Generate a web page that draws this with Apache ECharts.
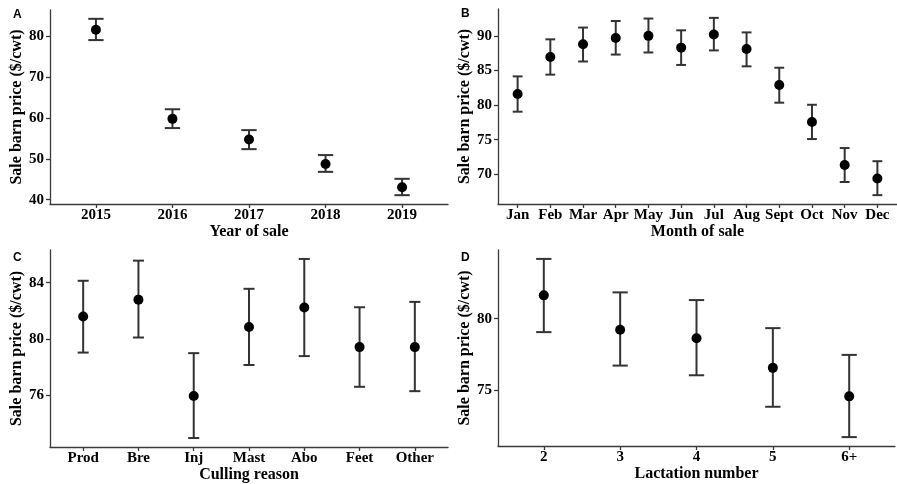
<!DOCTYPE html>
<html>
<head>
<meta charset="utf-8">
<script src="https://cdn.jsdelivr.net/npm/echarts@6/dist/echarts.min.js"></script>
<style>
  html, body { margin: 0; padding: 0; background: #fff; }
  #chart { width: 897px; height: 484px; }
</style>
</head>
<body>
<div id="chart"></div>
<script>
// Panel A: year of sale
const yearLabels = ['2015', '2016', '2017', '2018', '2019'];
const yearMean = [81.55, 59.75, 54.7, 48.7, 43.05];
const yearLow  = [79.0, 57.5, 52.35, 46.8, 41.1];
const yearHigh = [84.2, 62.1, 57.0, 50.9, 45.1];
const yearTicks = [40, 50, 60, 70, 80];

// Panel B: month of sale
const monthLabels = ['Jan', 'Feb', 'Mar', 'Apr', 'May', 'Jun', 'Jul', 'Aug', 'Sept', 'Oct', 'Nov', 'Dec'];
const monthMean = [81.6, 86.95, 88.8, 89.7, 90.0, 88.3, 90.2, 88.1, 82.9, 77.55, 71.35, 69.4];
const monthLow  = [79.05, 84.4, 86.3, 87.3, 87.6, 85.8, 87.9, 85.6, 80.35, 75.1, 68.9, 67.0];
const monthHigh = [84.15, 89.5, 91.2, 92.15, 92.5, 90.8, 92.6, 90.5, 85.4, 80.05, 73.8, 71.9];
const monthTicks = [70, 75, 80, 85, 90];

// Panel C: culling reason
const reasonLabels = ['Prod', 'Bre', 'Inj', 'Mast', 'Abo', 'Feet', 'Other'];
const reasonMean = [81.6, 82.8, 75.95, 80.86, 82.24, 79.43, 79.43];
const reasonLow  = [79.04, 80.11, 72.97, 78.16, 78.79, 76.61, 76.3];
const reasonHigh = [84.14, 85.57, 79.0, 83.57, 85.69, 82.26, 82.64];
const reasonTicks = [76, 80, 84];

// Panel D: lactation number
const lactLabels = ['2', '3', '4', '5', '6+'];
const lactMean = [81.64, 79.23, 78.63, 76.55, 74.55];
const lactLow  = [79.06, 76.71, 76.03, 73.82, 71.69];
const lactHigh = [84.2, 81.85, 81.31, 79.34, 77.46];
const lactTicks = [75, 80];

const yTitle = 'Sale barn price ($/cwt)';
const xTitles = ['Year of sale', 'Month of sale', 'Culling reason', 'Lactation number'];
const panelLetters = ['A', 'B', 'C', 'D'];

const panels = [
  { labels: yearLabels, mean: yearMean, low: yearLow, high: yearHigh, ticks: yearTicks, cap: 0.2,
    grid: { left: 50, top: 10, width: 398, height: 194 } },
  { labels: monthLabels, mean: monthMean, low: monthLow, high: monthHigh, ticks: monthTicks, cap: 0.3,
    grid: { left: 498, top: 9, width: 399, height: 195 } },
  { labels: reasonLabels, mean: reasonMean, low: reasonLow, high: reasonHigh, ticks: reasonTicks, cap: 0.2,
    grid: { left: 50, top: 250, width: 398, height: 197 } },
  { labels: lactLabels, mean: lactMean, low: lactLow, high: lactHigh, ticks: lactTicks, cap: 0.2,
    grid: { left: 498, top: 250, width: 397, height: 196 } }
];

const serif = 'Liberation Serif';
const axisColor = '#3a3a3a';
const barColor = '#333333';

const grids = [], xAxes = [], yAxes = [], series = [], graphics = [];

panels.forEach((p, i) => {
  const n = p.labels.length;
  const lo = Math.min.apply(null, p.low);
  const hi = Math.max.apply(null, p.high);
  const pad = (hi - lo) * 0.05;
  const positions = p.labels.map((_, k) => k + 1);

  grids.push(Object.assign({ containLabel: false }, p.grid));

  xAxes.push({
    type: 'value', gridIndex: i, min: 0.4, max: n + 0.6,
    splitLine: { show: false },
    axisLine: { show: true, onZero: false, lineStyle: { color: axisColor, width: 1.3 } },
    axisTick: { show: true, length: 4, customValues: positions, lineStyle: { color: axisColor, width: 1.3 } },
    axisLabel: {
      customValues: positions, margin: 4,
      formatter: v => p.labels[Math.round(v) - 1] || '',
      color: '#000', fontFamily: serif, fontWeight: 'bold', fontSize: 15
    },
    name: xTitles[i], nameLocation: 'middle', nameGap: 19,
    nameTextStyle: { color: '#000', fontFamily: serif, fontWeight: 'bold', fontSize: 16 }
  });

  yAxes.push({
    type: 'value', gridIndex: i, min: lo - pad, max: hi + pad,
    splitLine: { show: false },
    axisLine: { show: true, onZero: false, lineStyle: { color: axisColor, width: 1.3 } },
    axisTick: { show: true, length: 4, customValues: p.ticks, lineStyle: { color: axisColor, width: 1.3 } },
    axisLabel: {
      customValues: p.ticks, margin: 6,
      color: '#000', fontFamily: serif, fontWeight: 'bold', fontSize: 15
    },
    name: yTitle, nameLocation: 'middle', nameGap: 23,
    nameTextStyle: { color: '#000', fontFamily: serif, fontWeight: 'bold', fontSize: 16 }
  });

  // error bars: vertical stem plus caps at both ends
  series.push({
    type: 'custom', xAxisIndex: i, yAxisIndex: i,
    data: p.labels.map((_, k) => [k + 1, p.low[k], p.high[k]]),
    renderItem: (params, api) => {
      const x = api.value(0);
      const top = api.coord([x, api.value(2)]);
      const bot = api.coord([x, api.value(1)]);
      const l = api.coord([x - p.cap / 2, api.value(2)])[0];
      const r = api.coord([x + p.cap / 2, api.value(2)])[0];
      const style = { stroke: barColor, lineWidth: 2 };
      return {
        type: 'group',
        children: [
          { type: 'line', shape: { x1: top[0], y1: top[1], x2: bot[0], y2: bot[1] }, style },
          { type: 'line', shape: { x1: l, y1: top[1], x2: r, y2: top[1] }, style },
          { type: 'line', shape: { x1: l, y1: bot[1], x2: r, y2: bot[1] }, style }
        ]
      };
    },
    z: 2
  });

  series.push({
    type: 'scatter', xAxisIndex: i, yAxisIndex: i,
    data: p.mean.map((v, k) => [k + 1, v]),
    symbol: 'circle', symbolSize: 10,
    itemStyle: { color: '#000', opacity: 1 },
    z: 3
  });

  graphics.push({
    type: 'text',
    left: p.grid.left - 37, top: p.grid.top - (i < 2 ? 1 : -2),
    style: { text: panelLetters[i], font: 'bold 12px "Liberation Sans"', fill: '#000' }
  });
});

const chart = echarts.init(document.getElementById('chart'), null, { renderer: 'canvas' });
chart.setOption({
  animation: false,
  backgroundColor: '#fff',
  grid: grids,
  xAxis: xAxes,
  yAxis: yAxes,
  series: series,
  graphic: graphics
});
</script>
</body>
</html>
